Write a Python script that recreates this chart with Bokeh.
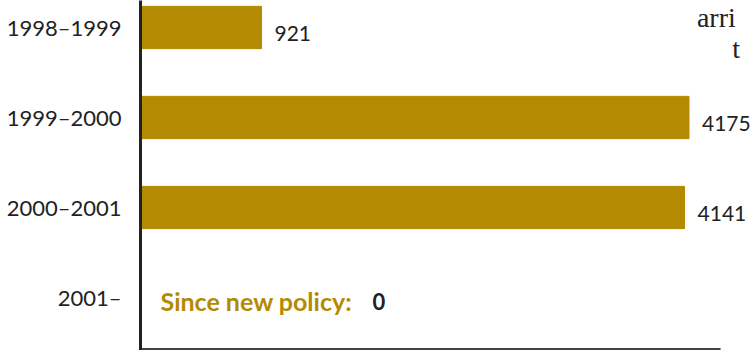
from bokeh.plotting import figure
from bokeh.models import Range1d, FixedTicker, ColumnDataSource, LabelSet, Label
from bokeh.core.properties import value
from bokeh.embed import file_html
from bokeh.resources import INLINE

periods = ["1998–1999", "1999–2000", "2000–2001", "2001–"]
counts = [921, 4175, 4141, 0]
value_labels = ["921", "4175", "4141", ""]

GOLD = "#b58a03"
DARK = "#222222"
FONT = "Lato"

ypos = list(range(len(periods)))
src = ColumnDataSource(dict(y=ypos, x=counts, lab=value_labels))

XMAX = 4643  # frame spans to right edge of canvas
p = figure(width=750, height=350, output_backend="svg", toolbar_location=None,
           x_range=Range1d(0, XMAX), y_range=Range1d(3.589, -0.3),
           min_border_left=140, min_border_right=0, min_border_top=0, min_border_bottom=0)

p.hbar(y="y", right="x", left=0, height=0.47, color=GOLD, source=src)

# baseline rule at the bottom
p.segment(x0=[0], y0=[3.572], x1=[4415], y1=[3.572], line_color="#444444", line_width=2)

p.add_layout(LabelSet(x="x", y="y", text="lab", source=src, x_offset=13, y_offset=-6,
                      text_font=value(FONT), text_font_size=value("21px"), text_color=DARK,
                      text_baseline="middle"))

p.add_layout(Label(x=0, y=3, text="Since new policy:", x_offset=20, y_offset=-4, text_font=FONT,
                   text_font_size="25px", text_font_style="bold", text_color=GOLD,
                   text_baseline="middle"))
p.add_layout(Label(x=0, y=3, text="0", x_offset=232, y_offset=-4, text_font=FONT,
                   text_font_size="22px", text_font_style="bold", text_color=DARK,
                   text_baseline="middle"))

p.add_layout(Label(x=4235, y=-0.11, text="arri", text_font="Liberation Serif",
                   text_font_size="28px", text_color=DARK, text_baseline="middle"))
p.add_layout(Label(x=4505, y=0.23, text="t", text_font="Liberation Serif",
                   text_font_size="28px", text_color=DARK, text_baseline="middle"))

p.grid.visible = False
p.outline_line_color = None
p.background_fill_color = "white"
p.border_fill_color = "white"
p.xaxis.visible = False

ya = p.yaxis[0]
ya.ticker = FixedTicker(ticks=ypos)
ya.major_label_overrides = {i: s for i, s in zip(ypos, periods)}
ya.major_label_text_font = FONT
ya.major_label_text_font_size = "22px"
ya.major_label_text_color = DARK
ya.major_label_standoff = 13
ya.major_tick_line_color = None
ya.minor_tick_line_color = None
ya.axis_line_color = DARK
ya.axis_line_width = 3

open("out.html", "w").write(file_html(p, INLINE))
